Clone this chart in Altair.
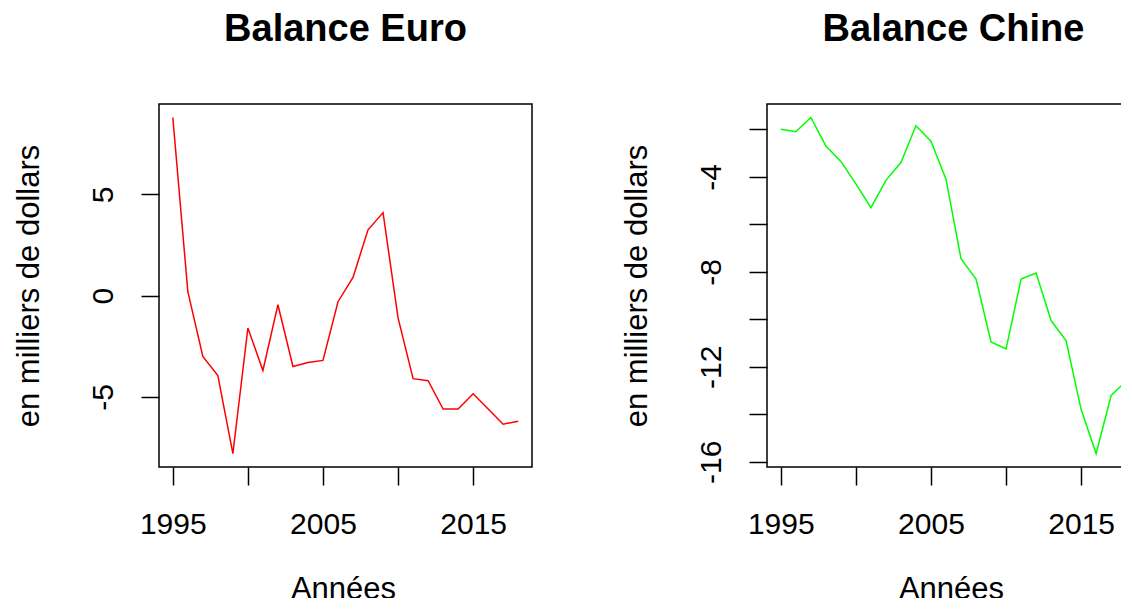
import altair as alt
import pandas as pd

years = [1995, 1996, 1997, 1998, 1999, 2000, 2001, 2002, 2003, 2004, 2005, 2006,
         2007, 2008, 2009, 2010, 2011, 2012, 2013, 2014, 2015, 2016, 2017, 2018]
euro = [8.8, 0.2, -3.0, -3.95, -7.8, -1.6, -3.7, -0.45, -3.5, -3.3, -3.2, -0.3,
        0.9, 3.25, 4.1, -1.1, -4.1, -4.2, -5.6, -5.6, -4.85, -5.6, -6.35, -6.2]
chine = [-2.0, -2.1, -1.5, -2.7, -3.35, -4.3, -5.3, -4.15, -3.4, -1.85, -2.5, -4.1,
         -7.45, -8.3, -10.95, -11.25, -8.3, -8.05, -10.05, -10.9, -13.8, -15.65, -13.2, -12.6]

x_ticks = [1995, 2000, 2005, 2010, 2015]
euro_ticks = [-5, 0, 5]
chine_ticks = [-16, -14, -12, -10, -8, -6, -4, -2]

FONT = "Liberation Sans"
W, H = 373, 363          # R plot box (the right one is cut by the window edge)


def r_domain(vals):
    lo, hi = min(vals), max(vals)
    pad = 0.04 * (hi - lo)
    return [lo - pad, hi + pad]


def panel(values, color, title, yticks, ylabel_expr):
    df = pd.DataFrame({"annee": years, "val": values})
    x_axis = alt.Axis(
        values=x_ticks,
        labelExpr="datum.value % 10 == 5 ? toString(datum.value) : ''",
        title="Années",
        labelPadding=24,
        titlePadding=35,
        titleX=184,
        labelFlush=False,
        labelOverlap=False,
    )
    y_axis = alt.Axis(
        values=yticks,
        labelExpr=ylabel_expr,
        title="en milliers de dollars",
        labelAngle=270,
        labelAlign="center",
        labelBaseline="bottom",
        labelPadding=23,
        titlePadding=43,
        labelOverlap=False,
    )
    return (
        alt.Chart(df)
        .mark_line(color=color, strokeWidth=1.5)
        .encode(
            x=alt.X("annee:Q", axis=x_axis,
                    scale=alt.Scale(domain=r_domain(years), nice=False, zero=False)),
            y=alt.Y("val:Q", axis=y_axis,
                    scale=alt.Scale(domain=r_domain(values), nice=False, zero=False)),
        )
        .properties(width=W, height=H, title=title)
    )


left = panel(euro, "#FF0000", "Balance Euro", euro_ticks, "toString(datum.value)")
right = panel(chine, "#00FF00", "Balance Chine", chine_ticks,
              "datum.value % 4 == 0 ? toString(datum.value) : ''")

chart = (
    alt.hconcat(left, right, spacing=87)
    .properties(padding={"left": 4, "top": 2, "right": -20, "bottom": -7})
    .configure_axis(
        labelFont=FONT, labelFontSize=30, labelColor="black",
        titleFont=FONT, titleFontSize=31, titleFontWeight="normal", titleColor="black",
        tickColor="black", tickSize=18, tickWidth=1.5,
        domain=False, grid=False,
    )
    .configure_view(stroke="black", strokeWidth=1.5)
    .configure_title(font=FONT, fontSize=38, fontWeight="bold", color="black",
                     baseline="alphabetic", offset=55, anchor="middle")
)

chart.save("out.html", embed_options={"renderer": "svg", "actions": False})
